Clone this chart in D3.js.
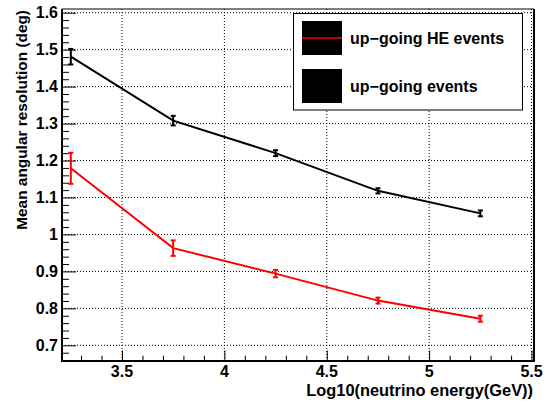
<!DOCTYPE html>
<html><head><meta charset="utf-8">
<script src="https://cdn.jsdelivr.net/npm/d3@7"></script>
<style>body{margin:0;background:#fff}svg{display:block}text{font-family:"Liberation Sans",Arial,Helvetica,sans-serif;font-weight:bold}</style>
</head><body>
<script>
const energies = [3.25, 3.75, 4.25, 4.75, 5.25];
const upgoing = [1.481, 1.308, 1.220, 1.118, 1.057];
const upgoingErr = [0.021, 0.013, 0.008, 0.007, 0.008];
const upgoingHE = [1.179, 0.963, 0.894, 0.821, 0.772];
const upgoingHEErr = [0.042, 0.021, 0.010, 0.008, 0.008];
const xTicks = [3.5, 4, 4.5, 5, 5.5];
const xTickLabels = ["3.5", "4", "4.5", "5", "5.5"];
const yTicks = [0.7, 0.8, 0.9, 1.0, 1.1, 1.2, 1.3, 1.4, 1.5, 1.6];
const yTickLabels = ["0.7", "0.8", "0.9", "1", "1.1", "1.2", "1.3", "1.4", "1.5", "1.6"];
const legendLabels = ["up\u2212going HE events", "up\u2212going events"];

const W = 548, H = 403;
const L = 62, R = 534, T = 9, B = 361;
const svg = d3.select("body").append("svg").attr("width", W).attr("height", H);
const x = d3.scaleLinear().domain([3.207, 5.512]).range([L, R]);
const y = d3.scaleLinear().domain([0.6576, 1.61]).range([B, T]);

// grid
const g = svg.append("g");
g.selectAll(".gx").data(xTicks).enter().append("line")
  .attr("x1", d => x(d)).attr("x2", d => x(d)).attr("y1", B).attr("y2", T)
  .attr("stroke", "#000").attr("stroke-width", 1).attr("stroke-dasharray", "1,2");
g.selectAll(".gy").data(yTicks).enter().append("line")
  .attr("x1", L).attr("x2", R).attr("y1", d => y(d)).attr("y2", d => y(d))
  .attr("stroke", "#000").attr("stroke-width", 1).attr("stroke-dasharray", "1,2");

// axes with inward ticks
const xMinor = d3.range(3.3, 5.51, 0.1).filter(v => xTicks.every(t => Math.abs(t - v) > 1e-6));
const yMinor = d3.range(0.66, 1.611, 0.02).filter(v => yTicks.every(t => Math.abs(t - v) > 1e-6));
const xAxis = d3.axisTop(x).tickValues(xTicks).tickSize(10.5).tickFormat("");
const xAxisMinor = d3.axisTop(x).tickValues(xMinor).tickSize(5.3).tickFormat("");
const yAxis = d3.axisRight(y).tickValues(yTicks).tickSize(14).tickFormat("");
const yAxisMinor = d3.axisRight(y).tickValues(yMinor).tickSize(7).tickFormat("");
[[xAxis, `translate(0,${B})`], [xAxisMinor, `translate(0,${B})`], [yAxis, `translate(${L},0)`], [yAxisMinor, `translate(${L},0)`]].forEach(([a, tr]) => {
  const ag = svg.append("g").attr("transform", tr).call(a);
  ag.select(".domain").remove();
  ag.selectAll("line").attr("stroke", "#000").attr("stroke-width", 1);
});

// frame
svg.append("line").attr("x1", L).attr("x2", R).attr("y1", T).attr("y2", T).attr("stroke", "#000").attr("stroke-width", 1);
svg.append("line").attr("x1", R).attr("x2", R).attr("y1", T).attr("y2", B).attr("stroke", "#000").attr("stroke-width", 2);
svg.append("line").attr("x1", L).attr("x2", L).attr("y1", T).attr("y2", B + 1).attr("stroke", "#000").attr("stroke-width", 2);
svg.append("line").attr("x1", L - 1).attr("x2", R + 1).attr("y1", B).attr("y2", B).attr("stroke", "#000").attr("stroke-width", 2);

// tick labels
svg.selectAll(".xl").data(xTicks).enter().append("text")
  .attr("x", d => x(d)).attr("y", 377).attr("text-anchor", "middle")
  .attr("font-size", 16).text((d, i) => xTickLabels[i]);
svg.selectAll(".yl").data(yTicks).enter().append("text")
  .attr("x", 58).attr("y", d => y(d) + 5.8).attr("text-anchor", "end")
  .attr("font-size", 16).text((d, i) => yTickLabels[i]);

// titles
svg.append("text").attr("x", 533).attr("y", 395.5).attr("text-anchor", "end")
  .attr("font-size", 16.4).text("Log10(neutrino energy(GeV))");
svg.append("text").attr("transform", "translate(27,10) rotate(-90)").attr("text-anchor", "end")
  .attr("font-size", 15.4).text("Mean angular resolution (deg)");

// series
function drawSeries(vals, errs, color) {
  const pts = energies.map((e, i) => ({e, v: vals[i], s: errs[i]}));
  svg.append("path").datum(pts)
    .attr("d", d3.line().x(d => x(d.e)).y(d => y(d.v)))
    .attr("fill", "none").attr("stroke", color).attr("stroke-width", 2);
  const eg = svg.append("g").attr("stroke", color).attr("stroke-width", 2);
  pts.forEach(p => {
    eg.append("line").attr("x1", x(p.e)).attr("x2", x(p.e)).attr("y1", y(p.v - p.s)).attr("y2", y(p.v + p.s));
    eg.append("line").attr("x1", x(p.e) - 2.5).attr("x2", x(p.e) + 2.5).attr("y1", y(p.v - p.s)).attr("y2", y(p.v - p.s));
    eg.append("line").attr("x1", x(p.e) - 2.5).attr("x2", x(p.e) + 2.5).attr("y1", y(p.v + p.s)).attr("y2", y(p.v + p.s));
  });
}
drawSeries(upgoing, upgoingErr, "#000");
drawSeries(upgoingHE, upgoingHEErr, "#ff0000");

// legend
const lg = svg.append("g");
lg.append("rect").attr("x", 293.5).attr("y", 13.5).attr("width", 229).attr("height", 96.5)
  .attr("fill", "#fff").attr("stroke", "#000").attr("stroke-width", 1);
const legendColors = ["#ff0000", null];
legendLabels.forEach((lab, i) => {
  const cy = 38 + i * 48;
  lg.append("rect").attr("x", 302).attr("y", cy - 17).attr("width", 40).attr("height", 34).attr("fill", "#000");
  if (legendColors[i]) lg.append("line").attr("x1", 302).attr("x2", 342).attr("y1", cy).attr("y2", cy)
    .attr("stroke", legendColors[i]).attr("stroke-width", 1.5);
  lg.append("text").attr("x", 350).attr("y", cy + 6).attr("font-size", 16).text(lab);
});
</script>
</body></html>
